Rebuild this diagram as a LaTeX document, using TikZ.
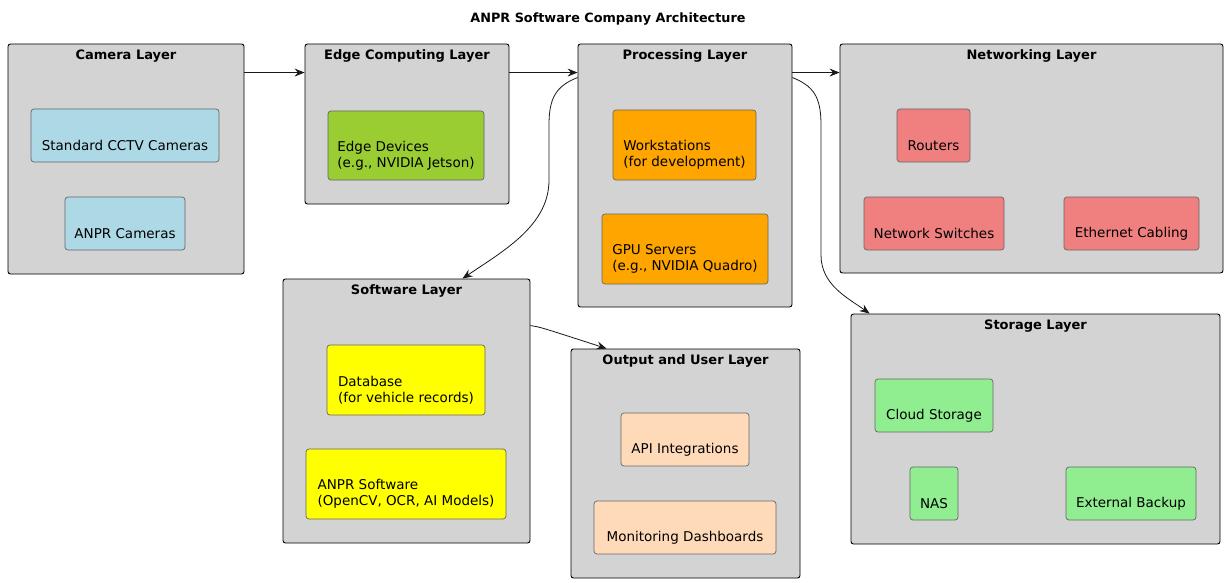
\documentclass[tikz,border=0pt]{standalone}
\usepackage{fontspec}
\setmainfont{DejaVu Sans}
\usetikzlibrary{positioning}
\usetikzlibrary{arrows.meta}
\definecolor{layergray}{HTML}{D3D3D3}
\definecolor{camblue}{HTML}{ADD8E6}
\definecolor{edgegreen}{HTML}{9ACD32}
\definecolor{procorange}{HTML}{FFA500}
\definecolor{netcoral}{HTML}{F08080}
\definecolor{storegreen}{HTML}{90EE90}
\definecolor{softyellow}{HTML}{FFFF00}
\definecolor{outpeach}{HTML}{FFDAB9}

\begin{document}
\begin{tikzpicture}[x=1pt,y=-1pt,
    layer/.style={draw=black,fill=layergray,rounded corners=2.5pt,line width=0.9pt,inner sep=0pt},
    part/.style={draw=black!60,fill=#1,rounded corners=3pt,line width=0.7pt,align=left,inner sep=0pt,font=\fontsize{13.5}{16}\selectfont},
    sz/.style 2 args={minimum width=#1pt,minimum height=#2pt},
    layertitle/.style={anchor=north,inner sep=0pt,font=\fontsize{13}{16}\selectfont\bfseries},
    flow/.style={draw=black!90,line width=0.8pt,-{Stealth[length=10pt,width=8pt,inset=3.5pt]}}]
        \useasboundingbox (0,0) rectangle (1228,583);
        \node[font=\fontsize{12.8}{16}\selectfont\bfseries] (Title) at (608,19) {ANPR Software Company Architecture};

        \node[layer,sz={236}{230}] (CameraLayer) at (126,159) {};
        \node[layertitle] (CameraTitle) at ([yshift=-6pt]CameraLayer.north) {Camera Layer};
        \node[part=camblue,sz={188}{53}] (CCTV) at (125,135.5) {\mbox{}\\[14pt]Standard CCTV Cameras};
        \node[part=camblue,sz={120}{53}] (ANPRCameras) at (125,223.5) {\mbox{}\\[14pt]ANPR Cameras};

        \node[layer,sz={204}{160}] (EdgeLayer) at (407,124) {};
        \node[layertitle] (EdgeTitle) at ([yshift=-6pt]EdgeLayer.north) {Edge Computing Layer};
        \node[part=edgegreen,sz={156}{69}] (EdgeDevices) at (406,145.5) {\mbox{}\\[14pt]Edge Devices\\(e.g., NVIDIA Jetson)};

        \node[layer,sz={214}{263}] (ProcessingLayer) at (685,175.5) {};
        \node[layertitle] (ProcessingTitle) at ([yshift=-6pt]ProcessingLayer.north) {Processing Layer};
        \node[part=procorange,sz={143}{70}] (Workstations) at (684.5,145) {\mbox{}\\[14pt]Workstations\\(for development)};
        \node[part=procorange,sz={166}{70}] (GPUServers) at (685,249) {\mbox{}\\[14pt]GPU Servers\\(e.g., NVIDIA Quadro)};

        \node[layer,sz={383}{229}] (NetworkingLayer) at (1031.5,158.5) {};
        \node[layertitle] (NetworkingTitle) at ([yshift=-6pt]NetworkingLayer.north) {Networking Layer};
        \node[part=netcoral,sz={73}{53}] (Routers) at (933.5,135.5) {\mbox{}\\[14pt]Routers};
        \node[part=netcoral,sz={140}{53}] (Switches) at (934,223.5) {\mbox{}\\[14pt]Network Switches};
        \node[part=netcoral,sz={135}{53}] (Cabling) at (1131.5,223.5) {\mbox{}\\[14pt]Ethernet Cabling};

        \node[layer,sz={369}{230}] (StorageLayer) at (1035.5,429) {};
        \node[layertitle] (StorageTitle) at ([yshift=-6pt]StorageLayer.north) {Storage Layer};
        \node[part=storegreen,sz={118}{53}] (CloudStorage) at (934,405.5) {\mbox{}\\[14pt]Cloud Storage};
        \node[part=storegreen,sz={48}{53}] (NAS) at (934,493.5) {\mbox{}\\[14pt]NAS};
        \node[part=storegreen,sz={130}{53}] (ExternalBackup) at (1131,493.5) {\mbox{}\\[14pt]External Backup};

        \node[layer,sz={247}{264}] (SoftwareLayer) at (406.5,411) {};
        \node[layertitle] (SoftwareTitle) at ([yshift=-6pt]SoftwareLayer.north) {Software Layer};
        \node[part=softyellow,sz={158}{70}] (Database) at (406,380) {\mbox{}\\[14pt]Database\\(for vehicle records)};
        \node[part=softyellow,sz={200}{70}] (ANPRSoftware) at (406,484) {\mbox{}\\[14pt]ANPR Software\\(OpenCV, OCR, AI Models)};

        \node[layer,sz={229}{229}] (OutputLayer) at (685.5,463.5) {};
        \node[layertitle] (OutputTitle) at ([yshift=-6pt]OutputLayer.north) {Output and User Layer};
        \node[part=outpeach,sz={128}{53}] (APIIntegrations) at (685,439.5) {\mbox{}\\[14pt]API Integrations};
        \node[part=outpeach,sz={182}{53}] (Dashboards) at (685,527.5) {\mbox{}\\[14pt]Monitoring Dashboards};

        \draw[flow] ([yshift=-29pt]CameraLayer.north east) -- ([yshift=-29pt]EdgeLayer.north west);
        \draw[flow] ([yshift=-29pt]EdgeLayer.north east) -- ([yshift=-29pt]ProcessingLayer.north west);
        \draw[flow] ([yshift=-29pt]ProcessingLayer.north east) -- ([yshift=-29pt]NetworkingLayer.north west);
        \draw[flow] ([yshift=-34pt]ProcessingLayer.north west) .. controls (556,86) and (549,98) .. (549,125) -- (549,180) .. controls (549,225) and (505,250) .. ([xshift=56pt]SoftwareLayer.north);
        \draw[flow] ([yshift=-34pt]ProcessingLayer.north east) .. controls (813,86) and (821,96) .. (821,125) -- (821,255) .. controls (821,285) and (848,298) .. ([xshift=19pt]StorageLayer.north west);
        \draw[flow] ([yshift=-47pt]SoftwareLayer.north east) .. controls (540,327) .. ([xshift=36pt]OutputLayer.north west);
    \end{tikzpicture}
\end{document}
